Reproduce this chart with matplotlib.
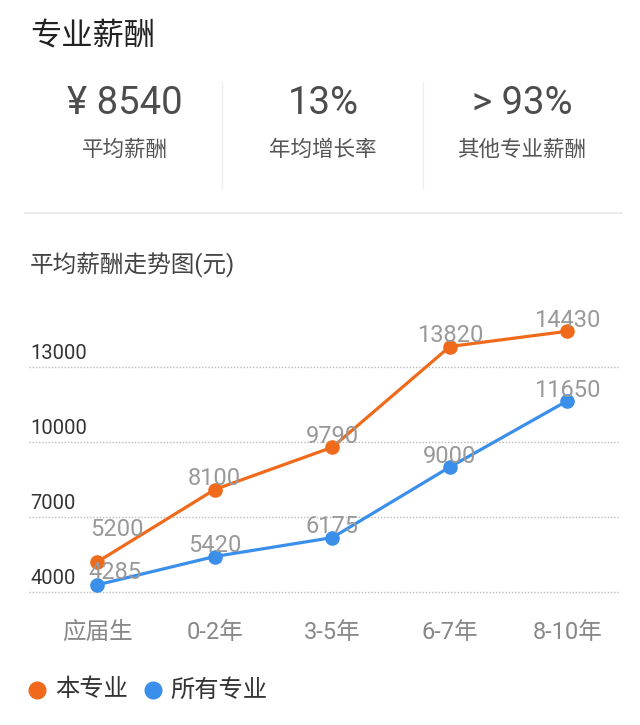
import matplotlib.pyplot as plt
from matplotlib.lines import Line2D
from matplotlib.transforms import blended_transform_factory

plt.rcParams['font.family'] = ['Roboto', 'Noto Sans CJK SC', 'DejaVu Sans']

# data
categories = ['应届生', '0-2年', '3-5年', '6-7年', '8-10年']
major = [5200, 8100, 9790, 13820, 14430]
allmajors = [4285, 5420, 6175, 9000, 11650]
series_names = ['本专业', '所有专业']
yticks = [4000, 7000, 10000, 13000]

stat_values = ['¥ 8540', '13%', '> 93%']
stat_names = ['平均薪酬', '年均增长率', '其他专业薪酬']

orange = '#F06A1C'
blue = '#3A8FEA'

W, H = 640, 725
fig = plt.figure(figsize=(W / 100, H / 100), dpi=100)
fig.patch.set_facecolor('white')


def fy(py):
    return 1 - py / H


def fx(px):
    return px / W


# header
fig.text(fx(30), fy(37), '专业薪酬', fontsize=22.5, color='#222222', va='center', ha='left')

col_x = [125, 323, 522]
for cx, v, n in zip(col_x, stat_values, stat_names):
    fig.text(fx(cx), fy(104), v, fontsize=27.5, color='#4d4d4d', ha='center', va='center')
    fig.text(fx(cx), fy(150), n, fontsize=15.5, color='#555555', ha='center', va='center')

for sx in [222, 423]:
    fig.add_artist(Line2D([fx(sx), fx(sx)], [fy(82), fy(188)], color='#eeeeee', lw=1))
fig.add_artist(Line2D([fx(25), fx(622)], [fy(213), fy(213)], color='#e8e8e8', lw=1.2))

fig.text(fx(30), fy(265), '平均薪酬走势图(元)', fontsize=17, color='#444444', ha='left', va='center')

# line chart
ax = fig.add_axes([fx(29), fy(592), fx(618) - fx(29), (592 - 302) / H])
x = list(range(len(categories)))
ax.set_xlim(-0.58, 4.43)
ax.set_ylim(4000, 15600)
for s in ax.spines.values():
    s.set_visible(False)
ax.set_xticks([])
ax.set_yticks([])

trans = blended_transform_factory(ax.transAxes, ax.transData)
for t in yticks:
    ax.plot([0, 1], [t, t], transform=trans, color='#bbbbbb', lw=1, ls=(0, (1, 1.3)),
            zorder=1, clip_on=False)
    ax.annotate(str(t), xy=(0, t), xycoords=trans, xytext=(1, 5.5), textcoords='offset points',
                fontsize=14.5, color='#333333', ha='left', va='baseline')

ax.plot(x, major, color=orange, lw=2.3, marker='o', ms=9.5, zorder=3, clip_on=False)
ax.plot(x, allmajors, color=blue, lw=2.3, marker='o', ms=9.5, zorder=3, clip_on=False)

# label offsets in points (first column nudged to stay clear)
offs_major = [(14, 19), (0, 3), (0, 3), (0, 3), (0, 3)]
offs_all = [(13, 4), (0, 3), (0, 3), (0, 3), (0, 3)]
for xi, v, o in zip(x, major, offs_major):
    ax.annotate(str(v), xy=(xi, v), xytext=o, textcoords='offset points', fontsize=17,
                color='#999999', ha='center', va='baseline', zorder=4)
for xi, v, o in zip(x, allmajors, offs_all):
    ax.annotate(str(v), xy=(xi, v), xytext=o, textcoords='offset points', fontsize=17,
                color='#999999', ha='center', va='baseline', zorder=4)

for xi, c in zip(x, categories):
    ax.annotate(c, xy=(xi, 4000), xytext=(0, -29), textcoords='offset points', fontsize=17,
                color='#888888', ha='center', va='center')

# legend
leg_items = [(37, 55, orange, series_names[0]), (153, 170, blue, series_names[1])]
for dx, tx, col, name in leg_items:
    fig.add_artist(Line2D([fx(dx)], [fy(690)], marker='o', ms=12, color=col, lw=0))
    fig.text(fx(tx), fy(690), name, fontsize=17.5, color='#333333', ha='left', va='center')

fig.savefig('out.png', dpi=100, facecolor='white')
